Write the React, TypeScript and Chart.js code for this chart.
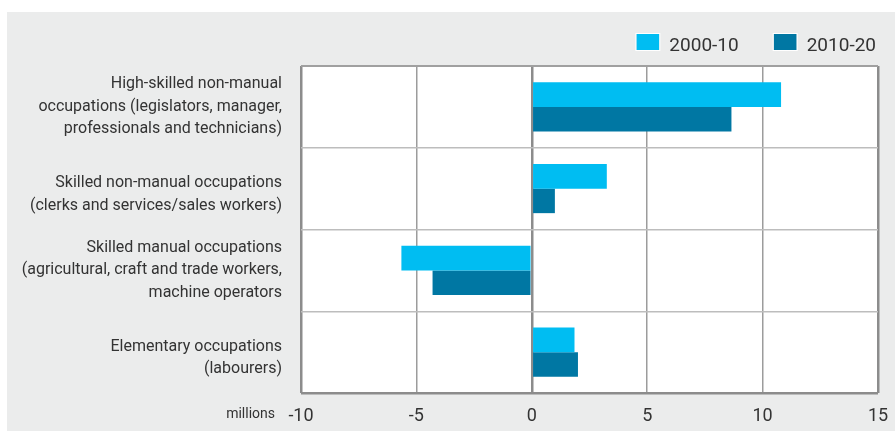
import React, { useEffect, useRef } from "react";
import { Chart, registerables } from "chart.js";

Chart.register(...registerables);

const categories: string[][] = [
  ["High-skilled non-manual", "occupations (legislators, manager,", "professionals and technicians)"],
  ["Skilled non-manual occupations", "(clerks and services/sales workers)"],
  ["Skilled manual occupations", "(agricultural, craft and trade workers,", "machine operators"],
  ["Elementary occupations", "(labourers)"],
];
const seriesLabels = ["2000-10", "2010-20"];
const values2000to10 = [10.8, 3.25, -5.65, 1.85];
const values2010to20 = [8.65, 1.0, -4.3, 2.0];
const xMin = -10;
const xMax = 15;
const xStep = 5;
const axisUnit = "millions";

const LIGHT = "#00bdf2";
const DARK = "#0077a3";
const TEXT = "#333333";
const FONT = "Roboto";

const decorPlugin = {
  id: "decor",
  beforeDraw(chart: any) {
    const { ctx, chartArea: a } = chart;
    ctx.save();
    ctx.fillStyle = "#ffffff";
    ctx.fillRect(a.left, a.top, a.right - a.left, a.bottom - a.top);
    ctx.restore();
    // nudge two-line category labels slightly down, as in the reference
    const y = chart.scales.y;
    if (y && typeof y.getLabelItems === "function") {
      const items = y.getLabelItems(a);
      items.forEach((it: any) => {
        if (Array.isArray(it.label) && it.label.length === 2 && !it.__nudged) {
          it.textOffset += 6;
          it.__nudged = true;
        }
      });
    }
  },
  afterDraw(chart: any) {
    const { ctx, chartArea: a } = chart;
    ctx.save();
    ctx.font = `19px ${FONT}`;
    ctx.textBaseline = "alphabetic";
    ctx.textAlign = "left";
    let x = a.right - 2;
    const ds = chart.data.datasets;
    for (let i = ds.length - 1; i >= 0; i--) {
      const label = ds[i].label as string;
      const w = ctx.measureText(label).width;
      const tx = x - w;
      ctx.fillStyle = TEXT;
      ctx.fillText(label, tx, a.top - 15.5);
      const bx = tx - 10 - 23;
      ctx.fillStyle = ds[i].backgroundColor;
      ctx.fillRect(bx, a.top - 32, 23, 16);
      ctx.strokeStyle = "#ffffff";
      ctx.lineWidth = 1;
      ctx.strokeRect(bx - 0.5, a.top - 32.5, 24, 17);
      x = bx - 35;
    }
    ctx.font = `14px ${FONT}`;
    ctx.textAlign = "right";
    ctx.fillStyle = TEXT;
    ctx.fillText(axisUnit, a.left - 26, a.bottom + 25.3);
    ctx.restore();
  },
};

export default function App() {
  const canvasRef = useRef<HTMLCanvasElement | null>(null);

  useEffect(() => {
    if (!canvasRef.current) return;
    const chart = new Chart(canvasRef.current, {
      type: "bar",
      data: {
        labels: categories,
        datasets: [
          {
            label: seriesLabels[0],
            data: values2000to10,
            backgroundColor: LIGHT,
            borderWidth: 0,
            barPercentage: 1,
            categoryPercentage: 0.6,
          },
          {
            label: seriesLabels[1],
            data: values2010to20,
            backgroundColor: DARK,
            borderWidth: 0,
            barPercentage: 1,
            categoryPercentage: 0.6,
          },
        ],
      },
      options: {
        indexAxis: "y",
        animation: false,
        responsive: true,
        maintainAspectRatio: false,
        layout: { padding: { top: 54, right: 17, bottom: 0, left: 0 } },
        plugins: {
          legend: { display: false },
          tooltip: { enabled: false },
          title: { display: false },
        },
        scales: {
          x: {
            type: "linear",
            min: xMin,
            max: xMax,
            border: { display: false },
            ticks: {
              stepSize: xStep,
              color: TEXT,
              padding: 13,
              font: { family: FONT, size: 18 },
            },
            grid: {
              drawTicks: false,
              color: (c: any) => {
                const v = c.tick ? c.tick.value : null;
                if (v === 0 || v === xMin || v === xMax) return "#8c8c8c";
                return "#9c9c9c";
              },
              lineWidth: (c: any) => {
                const v = c.tick ? c.tick.value : null;
                if (v === 0 || v === xMin || v === xMax) return 2.5;
                return 1.5;
              },
            },
            afterFit: (s: any) => {
              s.height = 38;
              s.paddingLeft = 0;
              s.paddingRight = 0;
            },
          },
          y: {
            type: "category",
            offset: true,
            border: { display: false },
            ticks: {
              color: TEXT,
              padding: 19,
              font: { family: FONT, size: 16, lineHeight: 1.4 },
            },
            grid: {
              offset: true,
              drawTicks: false,
              color: (c: any) => {
                if (c.type !== "tick") return "#8c8c8c";
                if (c.index === 0) return "#a0a0a0";
                return "#bdbdbd";
              },
              lineWidth: (c: any) => {
                if (c.type !== "tick") return 2.5;
                if (c.index === 0) return 2;
                return 1.5;
              },
            },
            afterFit: (s: any) => {
              s.width = 294;
              s.paddingTop = 0;
              s.paddingBottom = 0;
            },
          },
        },
      },
      plugins: [decorPlugin],
    });
    return () => chart.destroy();
  }, []);

  return (
    <div
      style={{
        position: "absolute",
        left: 7,
        top: 12,
        width: 888,
        height: 419,
        background: "#ebecec",
      }}
    >
      <canvas ref={canvasRef} />
    </div>
  );
}
